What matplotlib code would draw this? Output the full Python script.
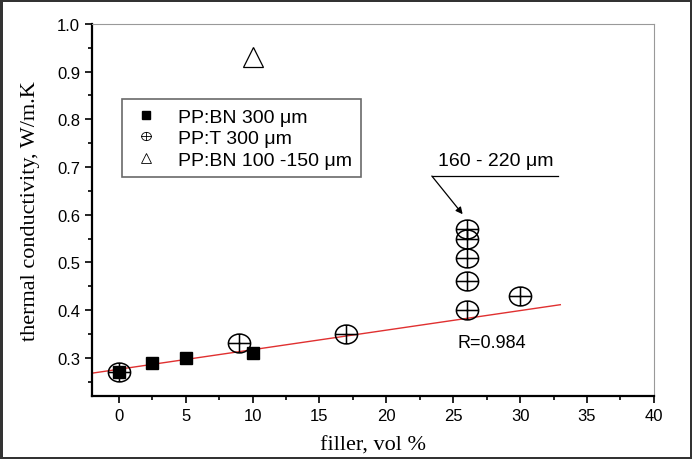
import matplotlib

matplotlib.use("Agg")

import matplotlib.pyplot as plt
import numpy as np
from matplotlib.lines import Line2D
from matplotlib.path import Path
from matplotlib.ticker import MultipleLocator

# PP:BN 300 um (filled squares)
bn300_x = [0, 2.5, 5, 10]
bn300_y = [0.27, 0.29, 0.30, 0.31]

# PP:T 300 um (circle with cross)
t300_x = [0, 9, 17, 26, 26, 26, 26, 26, 30]
t300_y = [0.27, 0.33, 0.35, 0.40, 0.46, 0.51, 0.55, 0.57, 0.43]

# PP:BN 100-150 um (open triangle)
bn100_x = [10]
bn100_y = [0.93]

# linear fit
fit_x = [-2, 33]
fit_intercept = 0.276
fit_slope = 0.0041

x_ticks = [0, 5, 10, 15, 20, 25, 30, 35, 40]
y_ticks = [0.3, 0.4, 0.5, 0.6, 0.7, 0.8, 0.9, 1.0]

SANS = "Liberation Sans"
SERIF = "Liberation Serif"

# circle + cross marker (a bit flattened, like the scanned original)
_circ = Path(Path.unit_circle().vertices * [1, 0.85], Path.unit_circle().codes)
_h = Path([[-1, 0], [1, 0]], [Path.MOVETO, Path.LINETO])
_v = Path([[0, -0.85], [0, 0.85]], [Path.MOVETO, Path.LINETO])
OPLUS = Path.make_compound_path(_circ, _h, _v)

fig = plt.figure(figsize=(6.92, 4.6), dpi=100)
fig.patch.set_edgecolor("#333333")
fig.patch.set_linewidth(2.5)
ax = fig.add_axes([0.133, 0.137, 0.812, 0.809])

fx = np.array(fit_x)
ax.plot(fx, fit_intercept + fit_slope * fx, color="#e03030", lw=1.0, zorder=1)

ax.plot(bn300_x, bn300_y, ls="none", marker="s", ms=8.5, color="black", zorder=3)
ax.plot(t300_x, t300_y, ls="none", marker=OPLUS, ms=16, mfc="none", mec="black",
        mew=1.1, zorder=4)
ax.plot(bn100_x, bn100_y, ls="none", marker="^", ms=14, mfc="none", mec="black",
        mew=0.9, zorder=4)

ax.set_xlim(-2, 40)
ax.set_ylim(0.22, 1.0)
ax.set_xticks(x_ticks)
ax.set_yticks(y_ticks)
ax.xaxis.set_minor_locator(MultipleLocator(2.5))
ax.yaxis.set_minor_locator(MultipleLocator(0.05))
ax.tick_params(which="both", direction="out", width=1.2, labelsize=12)
ax.tick_params(which="major", length=5)
ax.tick_params(which="minor", length=3)
for lab in ax.get_xticklabels() + ax.get_yticklabels():
    lab.set_fontfamily(SANS)

for side in ("left", "bottom"):
    ax.spines[side].set_linewidth(1.6)
for side in ("top", "right"):
    ax.spines[side].set_color("#999999")
    ax.spines[side].set_linewidth(0.8)

ax.set_xlabel("filler, vol %", fontfamily=SERIF, fontsize=16, labelpad=9)
ax.set_ylabel("thermal conductivity, W/m.K", fontfamily=SERIF, fontsize=16, labelpad=12)

# annotation for the 26 vol% cluster
ax.text(28.2, 0.714, "160 - 220 \u03bcm", fontfamily=SANS, fontsize=14,
        ha="center", va="center")
ax.plot([23.4, 32.8], [0.681, 0.681], color="black", lw=0.9)
ax.annotate("", xy=(25.7, 0.601), xytext=(23.4, 0.681),
            arrowprops=dict(arrowstyle="-|>", color="black", lw=0.9,
                            mutation_scale=10, shrinkA=0, shrinkB=0))
ax.text(27.9, 0.333, "R=0.984", fontfamily=SANS, fontsize=13,
        ha="center", va="center")

handles = [
    Line2D([], [], ls="none", marker="s", ms=5.5, color="black"),
    Line2D([], [], ls="none", marker=OPLUS, ms=7, mfc="none", mec="black", mew=0.6),
    Line2D([], [], ls="none", marker="^", ms=7, mfc="none", mec="black", mew=0.6),
]
labels = ["PP:BN 300 \u03bcm", "PP:T 300 \u03bcm", "PP:BN 100 -150 \u03bcm"]
leg = ax.legend(handles, labels, loc="upper left", bbox_to_anchor=(0.054, 0.797),
                frameon=True, fancybox=False, edgecolor="#444444",
                prop={"family": SANS, "size": 14}, handletextpad=0.9,
                labelspacing=0.2, borderpad=0.45, handlelength=1.5,
                borderaxespad=0)
leg.get_frame().set_linewidth(1.2)

fig.savefig("out.png", dpi=100)
